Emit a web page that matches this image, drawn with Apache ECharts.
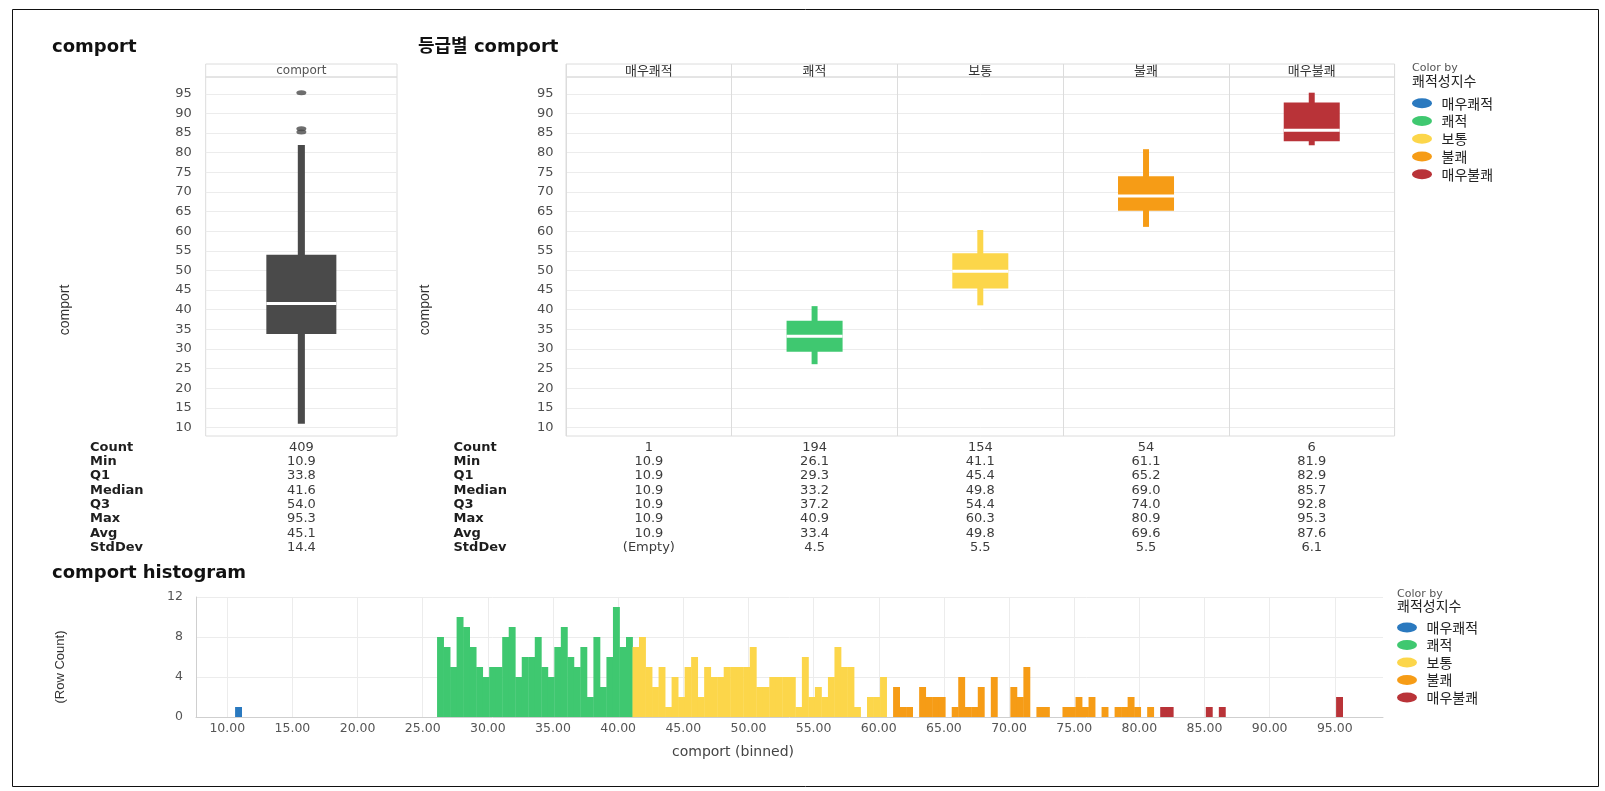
<!DOCTYPE html>
<html>
<head>
<meta charset="utf-8">
<title>comport</title>
<script src="https://cdn.jsdelivr.net/npm/echarts@6.0.0/dist/echarts.min.js"></script>
<style>
  html, body { margin: 0; padding: 0; background: #fff; }
  #chart { width: 1605px; height: 791px; }
</style>
</head>
<body>
<div id="chart"></div>
<script>
// 쾌적성지수 등급
const grades = ['매우쾌적', '쾌적', '보통', '불쾌', '매우불쾌'];
const gradeColors = ['#2a79bf', '#3fc870', '#fcd64a', '#f69c16', '#b93338'];
const overallColor = '#4a4a4a';

const statRows = ['Count', 'Min', 'Q1', 'Median', 'Q3', 'Max', 'Avg', 'StdDev'];

// comport 전체
const allCount = 409, allMin = 10.9, allQ1 = 33.8, allMedian = 41.6, allQ3 = 54.0,
      allMax = 95.3, allAvg = 45.1, allStd = 14.4;
const allWhiskerHigh = 82.0;
const allOutliers = [85.3, 86.1, 95.3];

// 등급별
const gradeCount  = [1, 194, 154, 54, 6];
const gradeMin    = [10.9, 26.1, 41.1, 61.1, 81.9];
const gradeQ1     = [10.9, 29.3, 45.4, 65.2, 82.9];
const gradeMedian = [10.9, 33.2, 49.8, 69.0, 85.7];
const gradeQ3     = [10.9, 37.2, 54.4, 74.0, 92.8];
const gradeMax    = [10.9, 40.9, 60.3, 80.9, 95.3];
const gradeAvg    = [10.9, 33.4, 49.8, 69.6, 87.6];
const gradeStd    = [null, 4.5, 5.5, 5.5, 6.1];

// histogram (bin 폭 0.5, 등급별 첫 bin 시작값)
const binWidth = 0.5;
const histStart = [10.6, 26.1, 41.1, 61.1, 81.6];
const histBlue   = [1];
const histGreen  = [8, 7, 5, 10, 9, 7, 5, 4, 5, 5, 8, 9, 4, 6, 6, 8, 5, 4, 7, 9,
                    6, 5, 7, 2, 8, 3, 6, 11, 7, 8];
const histYellow = [7, 8, 5, 3, 5, 1, 4, 2, 5, 6, 2, 5, 4, 4, 5, 5, 5, 5, 7, 3,
                    3, 4, 4, 4, 4, 1, 6, 2, 3, 2, 4, 7, 5, 5, 1, 0, 2, 2, 4];
const histOrange = [3, 1, 1, 0, 3, 2, 2, 2, 0, 1, 4, 1, 1, 3, 0, 4, 0, 0, 3, 2,
                    5, 0, 1, 1, 0, 0, 1, 1, 2, 1, 2, 0, 1, 0, 1, 1, 2, 1, 0, 1];
const histRed    = [1, 1, 0, 0, 0, 0, 0, 1, 0, 1, 0, 0, 0, 0, 0, 0, 0, 0, 0, 0,
                    0, 0, 0, 0, 0, 0, 0, 2];
const histCounts = [histBlue, histGreen, histYellow, histOrange, histRed];

const FONT = "'DejaVu Sans', 'Noto Sans CJK KR', sans-serif";
const KFONT = "'Noto Sans CJK KR', 'DejaVu Sans', sans-serif";
const NARROW = "'Liberation Sans', Arial, sans-serif";

const chart = echarts.init(document.getElementById('chart'));

function fmtStat(row, v) {
  if (v === null) return '(Empty)';
  return row === 0 ? String(v) : v.toFixed(1);
}

const allStats = [allCount, allMin, allQ1, allMedian, allQ3, allMax, allAvg, allStd];
const gradeStats = [gradeCount, gradeMin, gradeQ1, gradeMedian, gradeQ3, gradeMax, gradeAvg, gradeStd];
const allCells = allStats.map((v, r) => ({ col: 0, row: r, text: fmtStat(r, v) }));
const gradeCells = [];
gradeStats.forEach((arr, r) => arr.forEach((v, c) => gradeCells.push({ col: c, row: r, text: fmtStat(r, v) })));

// 상자그림: 굵은 수염 + 채운 상자 + 흰 중앙선
function renderBox(boxFrac, whiskerFrac) {
  return function (params, api) {
    const cat = api.value(0);
    const band = api.size([1, 0])[0];
    const pLow = api.coord([cat, api.value(1)]);
    const pQ1 = api.coord([cat, api.value(2)]);
    const pMed = api.coord([cat, api.value(3)]);
    const pQ3 = api.coord([cat, api.value(4)]);
    const pHigh = api.coord([cat, api.value(5)]);
    const bw = band * boxFrac, ww = band * whiskerFrac, cx = pMed[0];
    const color = api.visual('color');
    return {
      type: 'group',
      children: [
        { type: 'rect', shape: { x: cx - ww / 2, y: pHigh[1], width: ww, height: pLow[1] - pHigh[1] }, style: { fill: color } },
        { type: 'rect', shape: { x: cx - bw / 2, y: pQ3[1], width: bw, height: pQ1[1] - pQ3[1] }, style: { fill: color } },
        { type: 'rect', shape: { x: cx - bw / 2, y: pMed[1] - 1.5, width: bw, height: 3 }, style: { fill: '#ffffff' } }
      ]
    };
  };
}

function renderBin(params, api) {
  const p0 = api.coord([api.value(0), 0]);
  const p1 = api.coord([api.value(1), api.value(2)]);
  return {
    type: 'rect',
    shape: { x: p0[0], y: p1[1], width: p1[0] - p0[0] + 0.4, height: p0[1] - p1[1] },
    style: { fill: api.visual('color') }
  };
}

function renderCell(cells) {
  return function (params, api) {
    const p = api.coord([api.value(0), api.value(1)]);
    return {
      type: 'text', x: p[0], y: p[1],
      style: { text: cells[params.dataIndex].text, fill: '#3c3c3c', font: "13px 'DejaVu Sans'", align: 'center', verticalAlign: 'middle' }
    };
  };
}

function boxYAxis(gi, margin) {
  return {
    type: 'value', gridIndex: gi, min: 7.8, max: 99.3, splitNumber: 18, minInterval: 5, maxInterval: 5,
    axisLine: { show: false }, axisTick: { show: false },
    axisLabel: { margin: margin, color: '#4d4d4d', fontSize: 13, fontFamily: FONT, showMinLabel: false, showMaxLabel: false,
                 formatter: v => (v % 5 === 0 ? String(v) : '') },
    splitLine: { show: true, showMinLine: false, showMaxLine: false, lineStyle: { color: '#ececec' } }
  };
}

function tableYAxis(gi, margin) {
  return {
    type: 'category', gridIndex: gi, data: statRows, inverse: true,
    axisLine: { show: false }, axisTick: { show: false }, splitLine: { show: false },
    axisLabel: { interval: 0, align: 'left', margin: margin, color: '#1e1e1e', fontWeight: 'bold', fontSize: 13, fontFamily: FONT }
  };
}

const series = [];

series.push({
  name: 'comport', type: 'custom', xAxisIndex: 0, yAxisIndex: 0,
  renderItem: renderBox(0.366, 0.037), itemStyle: { color: overallColor },
  encode: { x: 0, y: [1, 2, 3, 4, 5] },
  data: [[0, allMin, allQ1, allMedian, allQ3, allWhiskerHigh]]
});
series.push({
  name: 'outliers', type: 'scatter', xAxisIndex: 0, yAxisIndex: 0,
  symbol: 'circle', symbolSize: [10, 5], itemStyle: { color: overallColor },
  data: allOutliers.map(v => [0, v])
});

grades.forEach((g, i) => {
  series.push({
    name: g, type: 'custom', xAxisIndex: 1, yAxisIndex: 1,
    renderItem: renderBox(0.338, 0.036), itemStyle: { color: gradeColors[i] },
    encode: { x: 0, y: [1, 2, 3, 4, 5] },
    // 값이 1개뿐인 등급은 상자를 그리지 않음
    data: gradeCount[i] > 1 ? [[i, gradeMin[i], gradeQ1[i], gradeMedian[i], gradeQ3[i], gradeMax[i]]] : []
  });
});

series.push({
  name: 'statsAll', type: 'custom', xAxisIndex: 2, yAxisIndex: 2,
  renderItem: renderCell(allCells), data: allCells.map(c => [c.col, c.row])
});
series.push({
  name: 'statsGrade', type: 'custom', xAxisIndex: 3, yAxisIndex: 3,
  renderItem: renderCell(gradeCells), data: gradeCells.map(c => [c.col, c.row])
});

grades.forEach((g, i) => {
  const bins = histCounts[i]
    .map((c, k) => [histStart[i] + k * binWidth, histStart[i] + (k + 1) * binWidth, c])
    .filter(d => d[2] > 0);
  series.push({
    name: g, type: 'custom', xAxisIndex: 4, yAxisIndex: 4,
    renderItem: renderBin, itemStyle: { color: gradeColors[i] },
    encode: { x: [0, 1], y: 2 },
    data: bins
  });
});

const legendIcon = 'path://M0,5a10,5 0 1,0 20,0a10,5 0 1,0 -20,0z';
function legendAt(left, top, gap) {
  return {
    data: grades, orient: 'vertical', left: left, top: top, padding: 0,
    icon: legendIcon, itemWidth: 21, itemHeight: 10, itemGap: gap, selectedMode: false,
    textStyle: { color: '#222', fontSize: 14, lineHeight: 14, fontFamily: KFONT, padding: [0, 0, 0, 4] }
  };
}

function label(text, x, y, font, fill, extra) {
  return Object.assign({ type: 'text', x: x, y: y, style: { text: text, font: font, fill: fill, align: 'left', verticalAlign: 'middle' } }, extra || {});
}

function vlabel(text, x, y, font) {
  return { type: 'text', x: x, y: y, rotation: Math.PI / 2,
           style: { text: text, font: font, fill: '#333', align: 'center', verticalAlign: 'middle' } };
}

const option = {
  animation: false,
  backgroundColor: '#ffffff',
  grid: [
    { left: 205.7, top: 77, width: 191.3, height: 359, show: true, borderColor: '#dcdcdc', borderWidth: 1 },
    { left: 566, top: 77, width: 828.6, height: 359, show: true, borderColor: '#dcdcdc', borderWidth: 1 },
    { left: 205.7, top: 440.1, width: 191.3, height: 114.7 },
    { left: 566, top: 440.1, width: 828.6, height: 114.7 },
    { left: 196, top: 597, width: 1187, height: 120 }
  ],
  xAxis: [
    { type: 'category', gridIndex: 0, data: ['comport'], position: 'top',
      axisLine: { show: false }, axisTick: { show: false }, splitLine: { show: false },
      axisLabel: { margin: 6.5, verticalAlign: 'middle', color: '#555', fontSize: 12, fontFamily: FONT } },
    { type: 'category', gridIndex: 1, data: grades, position: 'top',
      axisLine: { show: false },
      axisTick: { show: true, length: 13, lineStyle: { color: '#dcdcdc' } },
      splitLine: { show: true, lineStyle: { color: '#dcdcdc' } },
      axisLabel: { interval: 0, margin: 6.5, verticalAlign: 'middle', color: '#333', fontSize: 13, fontFamily: KFONT } },
    { type: 'category', gridIndex: 2, data: ['comport'], show: false },
    { type: 'category', gridIndex: 3, data: grades, show: false },
    { type: 'value', gridIndex: 4, min: 7.6, max: 98.7, splitNumber: 18, minInterval: 5, maxInterval: 5,
      axisLine: { show: true, lineStyle: { color: '#cfcfcf' } }, axisTick: { show: false },
      axisLabel: { margin: 5, color: '#555', fontSize: 12.5, fontFamily: FONT, showMinLabel: false, showMaxLabel: false,
                   formatter: v => (v % 5 === 0 ? v.toFixed(2) : '') },
      splitLine: { show: true, showMinLine: false, showMaxLine: false, lineStyle: { color: '#ececec' } } }
  ],
  yAxis: [
    boxYAxis(0, 14),
    boxYAxis(1, 12.5),
    tableYAxis(2, 115.7),
    tableYAxis(3, 112.5),
    { type: 'value', gridIndex: 4, min: 0, max: 12, interval: 4,
      axisLine: { show: true, lineStyle: { color: '#cfcfcf' } }, axisTick: { show: false },
      axisLabel: { margin: 13, color: '#555', fontSize: 12.5, fontFamily: FONT },
      splitLine: { show: true, showMinLine: false, lineStyle: { color: '#ececec' } } }
  ],
  legend: [legendAt(1412, 96.3, 3.75), legendAt(1397, 620.5, 3.5)],
  graphic: [
    { type: 'rect', shape: { x: 12.5, y: 9.5, width: 1586, height: 777 }, style: { fill: 'none', stroke: '#111', lineWidth: 1 } },
    { type: 'rect', shape: { x: 205.7, y: 64, width: 191.3, height: 13 }, style: { fill: 'none', stroke: '#dcdcdc', lineWidth: 1 } },
    { type: 'rect', shape: { x: 566, y: 64, width: 828.6, height: 13 }, style: { fill: 'none', stroke: '#dcdcdc', lineWidth: 1 } },
    label('comport', 52, 47, "bold 18px " + FONT, '#111'),
    label('등급별 comport', 418, 47, "bold 18px " + FONT, '#111'),
    label('comport histogram', 52, 573, "bold 18px " + FONT, '#111'),
    vlabel('comport', 65, 310, "14px " + NARROW),
    vlabel('comport', 425, 310, "14px " + NARROW),
    vlabel('(Row Count)', 60, 667, "13px " + NARROW),
    { type: 'text', x: 733, y: 752,
      style: { text: 'comport (binned)', font: "14px " + FONT, fill: '#444', align: 'center', verticalAlign: 'middle' } },
    label('Color by', 1412, 68.5, "11px " + FONT, '#555'),
    label('쾌적성지수', 1412, 80.5, "14px " + KFONT, '#222'),
    label('Color by', 1397, 594.5, "11px " + FONT, '#555'),
    label('쾌적성지수', 1397, 606, "14px " + KFONT, '#222')
  ],
  series: series
};

chart.setOption(option);
</script>
</body>
</html>
